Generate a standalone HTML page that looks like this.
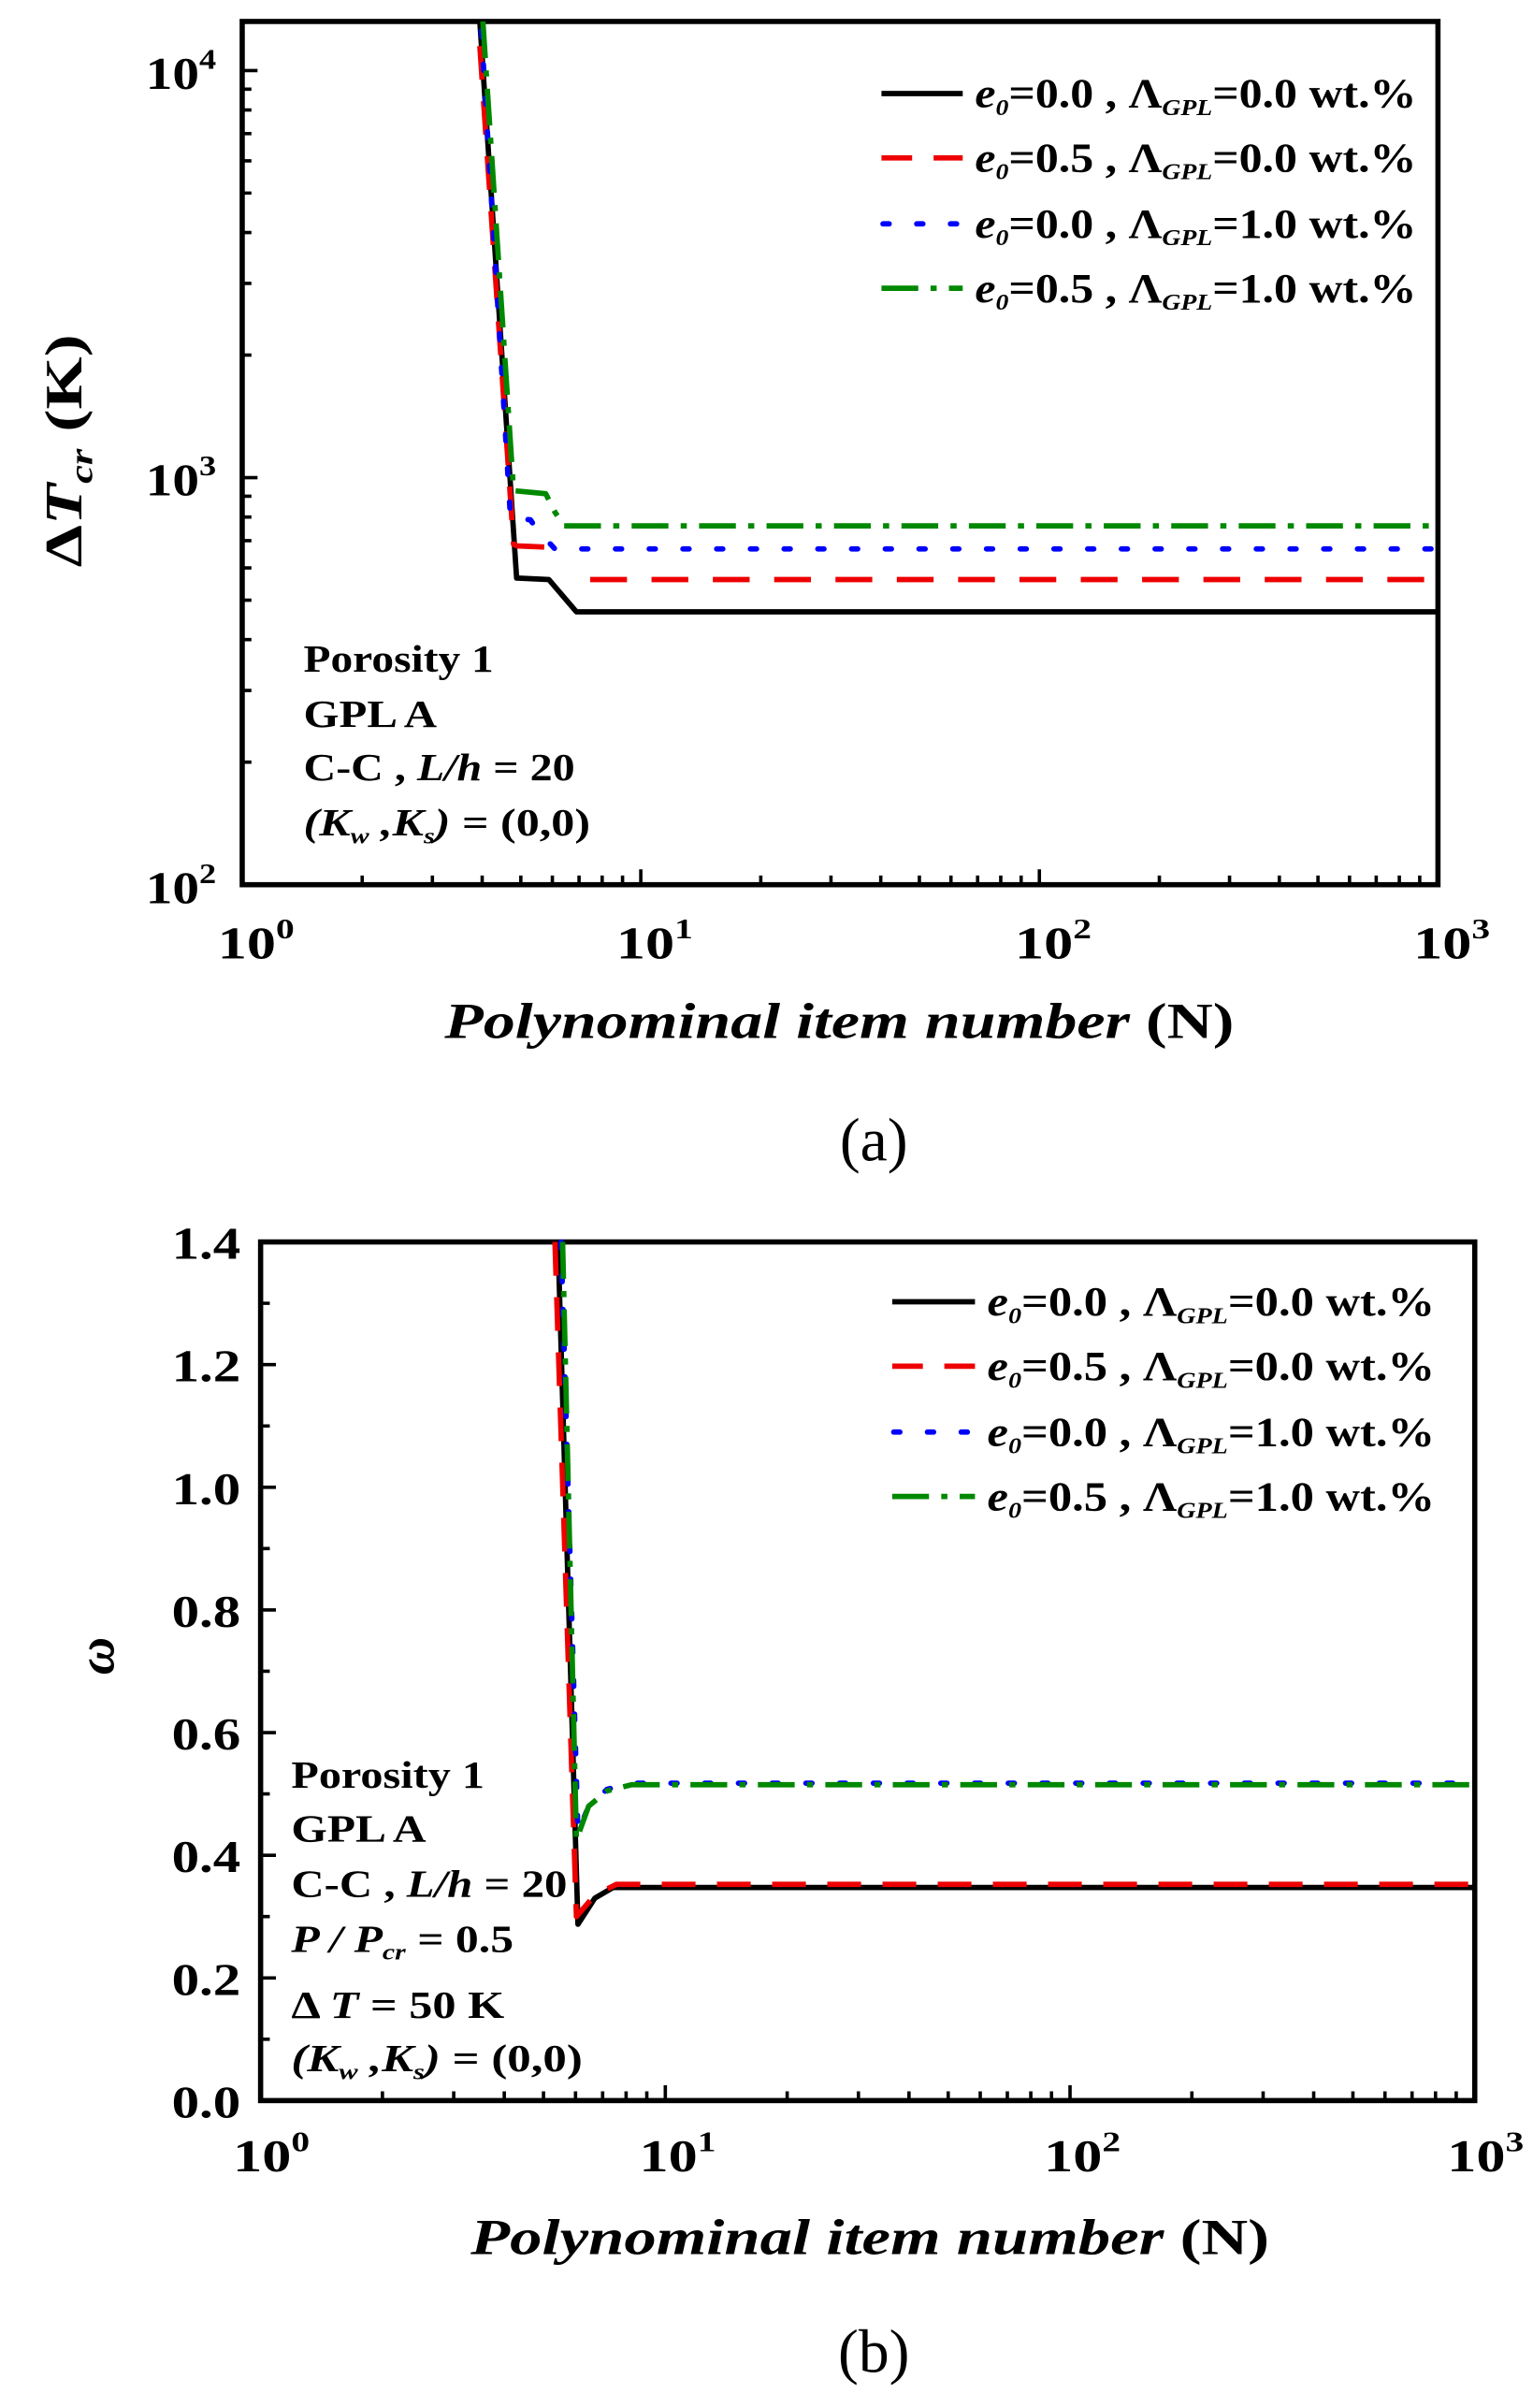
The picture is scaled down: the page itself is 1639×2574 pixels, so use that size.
<!DOCTYPE html>
<html><head><meta charset="utf-8"><style>
html,body{margin:0;padding:0;background:#fff;}
svg{display:block;}
text{font-family:"Liberation Serif",serif;font-weight:bold;fill:#000;}
</style></head><body>
<svg id="s" width="1639" height="2574" viewBox="0 0 1000 1570.5" preserveAspectRatio="none" xmlns="http://www.w3.org/2000/svg">
<g id="ticks" stroke="#000" stroke-width="2.2"></g>
<rect x="158" y="14" width="780" height="563" fill="none" stroke="#000" stroke-width="3.4"/>
<g fill="none" stroke-width="3.5" stroke-linejoin="round">
<polyline stroke="#000" points="313,14 337,377 358,378 376,399 938,399"/>
<polyline stroke="#e00" stroke-dasharray="22,14" points="313,30 335,355 337,356 360,357 362,362"/>
<polyline stroke="#e00" stroke-dasharray="24,16" points="385,378 938,378"/>
<polyline stroke="#00f" stroke-dasharray="4,18" stroke-linecap="round" points="314,20 333,338 346,339 350,345 362,358 938,358"/>
<polyline stroke="#080" stroke-dasharray="24,8,4,8" points="315,14 335,320 356,322 362,334 368,343 938,343"/>
</g>
<g stroke-width="3.5" fill="none">
<line x1="575" y1="61" x2="628" y2="61" stroke="#000"/>
<line x1="575" y1="103" x2="628" y2="103" stroke="#e00" stroke-dasharray="20,14"/>
<line x1="576" y1="146" x2="628" y2="146" stroke="#00f" stroke-dasharray="4,18" stroke-linecap="round"/>
<line x1="575" y1="188" x2="628" y2="188" stroke="#080" stroke-dasharray="24,8,4,8"/>
</g>
<g font-size="27">
<text x="636" y="70" textLength="288" lengthAdjust="spacingAndGlyphs"><tspan font-style="italic">e</tspan><tspan font-size="15" dy="5" font-style="italic">0</tspan><tspan dy="-5">=0.0 , Λ</tspan><tspan font-size="15" dy="5" font-style="italic">GPL</tspan><tspan dy="-5">=0.0 wt.%</tspan></text>
<text x="636" y="112" textLength="288" lengthAdjust="spacingAndGlyphs"><tspan font-style="italic">e</tspan><tspan font-size="15" dy="5" font-style="italic">0</tspan><tspan dy="-5">=0.5 , Λ</tspan><tspan font-size="15" dy="5" font-style="italic">GPL</tspan><tspan dy="-5">=0.0 wt.%</tspan></text>
<text x="636" y="155" textLength="288" lengthAdjust="spacingAndGlyphs"><tspan font-style="italic">e</tspan><tspan font-size="15" dy="5" font-style="italic">0</tspan><tspan dy="-5">=0.0 , Λ</tspan><tspan font-size="15" dy="5" font-style="italic">GPL</tspan><tspan dy="-5">=1.0 wt.%</tspan></text>
<text x="636" y="197" textLength="288" lengthAdjust="spacingAndGlyphs"><tspan font-style="italic">e</tspan><tspan font-size="15" dy="5" font-style="italic">0</tspan><tspan dy="-5">=0.5 , Λ</tspan><tspan font-size="15" dy="5" font-style="italic">GPL</tspan><tspan dy="-5">=1.0 wt.%</tspan></text>
</g>
<g font-size="25">
<text x="198" y="438" textLength="124" lengthAdjust="spacingAndGlyphs">Porosity 1</text>
<text x="198" y="474" textLength="87" lengthAdjust="spacingAndGlyphs">GPL A</text>
<text x="198" y="509" textLength="177" lengthAdjust="spacingAndGlyphs">C-C , <tspan font-style="italic">L/h</tspan> = 20</text>
<text x="198" y="545" textLength="187" lengthAdjust="spacingAndGlyphs"><tspan font-style="italic">(K</tspan><tspan font-style="italic" font-size="15" dy="5">w</tspan><tspan font-style="italic" dy="-5"> ,K</tspan><tspan font-style="italic" font-size="15" dy="5">s</tspan><tspan font-style="italic" dy="-5">)</tspan> = (0,0)</text>
</g>
<g font-size="30">
<text x="95" y="58" textLength="46" lengthAdjust="spacingAndGlyphs">10<tspan font-size="19" dy="-13">4</tspan></text>
<text x="95" y="323" textLength="46" lengthAdjust="spacingAndGlyphs">10<tspan font-size="19" dy="-13">3</tspan></text>
<text x="95" y="589" textLength="46" lengthAdjust="spacingAndGlyphs">10<tspan font-size="19" dy="-13">2</tspan></text>
<text x="142" y="625" textLength="50" lengthAdjust="spacingAndGlyphs">10<tspan font-size="19" dy="-13">0</tspan></text>
<text x="402" y="625" textLength="50" lengthAdjust="spacingAndGlyphs">10<tspan font-size="19" dy="-13">1</tspan></text>
<text x="662" y="625" textLength="50" lengthAdjust="spacingAndGlyphs">10<tspan font-size="19" dy="-13">2</tspan></text>
<text x="922" y="625" textLength="50" lengthAdjust="spacingAndGlyphs">10<tspan font-size="19" dy="-13">3</tspan></text>
</g>
<text transform="translate(53,370) rotate(-90)" font-size="34" textLength="152" lengthAdjust="spacingAndGlyphs">Δ<tspan font-style="italic">T</tspan><tspan font-style="italic" font-size="21" dy="7">cr</tspan><tspan dy="-7"> (K)</tspan></text>
<text x="290" y="677" font-size="33" textLength="515" lengthAdjust="spacingAndGlyphs"><tspan font-style="italic">Polynominal item number</tspan> (N)</text>
<text x="570" y="757" font-size="40" text-anchor="middle" style="font-weight:normal">(a)</text>

<rect x="170" y="810" width="792" height="560" fill="none" stroke="#000" stroke-width="3.4"/>
<g fill="none" stroke-width="3.5" stroke-linejoin="round">
<polyline stroke="#000" points="364,810 377,1255 388,1238 400,1231 962,1231"/>
<polyline stroke="#e00" stroke-dasharray="22,14" points="362,810 376,1250 388,1236 402,1229 962,1229"/>
<polyline stroke="#00f" stroke-dasharray="4,18" stroke-linecap="round" points="366,810 377,1195 384,1178 396,1167 412,1163 962,1163"/>
<polyline stroke="#080" stroke-dasharray="24,8,4,8" points="367,810 376,1200 384,1178 396,1168 412,1164 962,1164"/>
</g>
<g stroke-width="3.5" fill="none">
<line x1="582" y1="849" x2="636" y2="849" stroke="#000"/>
<line x1="582" y1="891" x2="636" y2="891" stroke="#e00" stroke-dasharray="20,14"/>
<line x1="583" y1="934" x2="636" y2="934" stroke="#00f" stroke-dasharray="4,18" stroke-linecap="round"/>
<line x1="582" y1="976" x2="636" y2="976" stroke="#080" stroke-dasharray="24,8,4,8"/>
</g>
<g font-size="27">
<text x="644" y="858" textLength="292" lengthAdjust="spacingAndGlyphs"><tspan font-style="italic">e</tspan><tspan font-size="15" dy="5" font-style="italic">0</tspan><tspan dy="-5">=0.0 , Λ</tspan><tspan font-size="15" dy="5" font-style="italic">GPL</tspan><tspan dy="-5">=0.0 wt.%</tspan></text>
<text x="644" y="900" textLength="292" lengthAdjust="spacingAndGlyphs"><tspan font-style="italic">e</tspan><tspan font-size="15" dy="5" font-style="italic">0</tspan><tspan dy="-5">=0.5 , Λ</tspan><tspan font-size="15" dy="5" font-style="italic">GPL</tspan><tspan dy="-5">=0.0 wt.%</tspan></text>
<text x="644" y="943" textLength="292" lengthAdjust="spacingAndGlyphs"><tspan font-style="italic">e</tspan><tspan font-size="15" dy="5" font-style="italic">0</tspan><tspan dy="-5">=0.0 , Λ</tspan><tspan font-size="15" dy="5" font-style="italic">GPL</tspan><tspan dy="-5">=1.0 wt.%</tspan></text>
<text x="644" y="985" textLength="292" lengthAdjust="spacingAndGlyphs"><tspan font-style="italic">e</tspan><tspan font-size="15" dy="5" font-style="italic">0</tspan><tspan dy="-5">=0.5 , Λ</tspan><tspan font-size="15" dy="5" font-style="italic">GPL</tspan><tspan dy="-5">=1.0 wt.%</tspan></text>
</g>
<g font-size="25">
<text x="190" y="1166" textLength="126" lengthAdjust="spacingAndGlyphs">Porosity 1</text>
<text x="190" y="1201" textLength="88" lengthAdjust="spacingAndGlyphs">GPL A</text>
<text x="190" y="1237" textLength="180" lengthAdjust="spacingAndGlyphs">C-C , <tspan font-style="italic">L/h</tspan> = 20</text>
<text x="190" y="1273" textLength="145" lengthAdjust="spacingAndGlyphs"><tspan font-style="italic">P / P</tspan><tspan font-style="italic" font-size="15" dy="5">cr</tspan><tspan dy="-5"> = 0.5</tspan></text>
<text x="190" y="1316" textLength="139" lengthAdjust="spacingAndGlyphs">Δ <tspan font-style="italic">T</tspan> = 50 K</text>
<text x="190" y="1351" textLength="190" lengthAdjust="spacingAndGlyphs"><tspan font-style="italic">(K</tspan><tspan font-style="italic" font-size="15" dy="5">w</tspan><tspan font-style="italic" dy="-5"> ,K</tspan><tspan font-style="italic" font-size="15" dy="5">s</tspan><tspan font-style="italic" dy="-5">)</tspan> = (0,0)</text>
</g>
<g font-size="30">
<text x="112" y="821" textLength="45" lengthAdjust="spacingAndGlyphs">1.4</text>
<text x="112" y="901" textLength="45" lengthAdjust="spacingAndGlyphs">1.2</text>
<text x="112" y="981" textLength="45" lengthAdjust="spacingAndGlyphs">1.0</text>
<text x="112" y="1061" textLength="45" lengthAdjust="spacingAndGlyphs">0.8</text>
<text x="112" y="1141" textLength="45" lengthAdjust="spacingAndGlyphs">0.6</text>
<text x="112" y="1221" textLength="45" lengthAdjust="spacingAndGlyphs">0.4</text>
<text x="112" y="1301" textLength="45" lengthAdjust="spacingAndGlyphs">0.2</text>
<text x="112" y="1381" textLength="45" lengthAdjust="spacingAndGlyphs">0.0</text>
<text x="152" y="1416" textLength="50" lengthAdjust="spacingAndGlyphs">10<tspan font-size="19" dy="-13">0</tspan></text>
<text x="417" y="1416" textLength="50" lengthAdjust="spacingAndGlyphs">10<tspan font-size="19" dy="-13">1</tspan></text>
<text x="681" y="1416" textLength="50" lengthAdjust="spacingAndGlyphs">10<tspan font-size="19" dy="-13">2</tspan></text>
<text x="944" y="1416" textLength="50" lengthAdjust="spacingAndGlyphs">10<tspan font-size="19" dy="-13">3</tspan></text>
</g>
<text transform="translate(74,1080) rotate(-90)" font-size="34" text-anchor="middle" font-style="italic">ω</text>
<text x="307" y="1470" font-size="33" textLength="521" lengthAdjust="spacingAndGlyphs"><tspan font-style="italic">Polynominal item number</tspan> (N)</text>
<text x="570" y="1547" font-size="40" text-anchor="middle" style="font-weight:normal">(b)</text>
</svg>
<script>
(function(){
var g=document.getElementById('ticks'),d='';
function L(x1,y1,x2,y2){d+='M'+x1+' '+y1+'L'+x2+' '+y2;}
for(var k=0;k<3;k++){for(var m=1;m<10;m++){var x=158+260*(k+Math.log10(m));L(x,577,x,577-(m==1?10:6));}}
for(var k=0;k<3;k++){for(var m=1;m<10;m++){var y=577-265.5*(k+Math.log10(m));if(y<14)continue;L(158,y,158+(m==1?10:6),y);}}
for(var k=0;k<3;k++){for(var m=1;m<10;m++){var x=170+264*(k+Math.log10(m));L(x,1370,x,1370-(m==1?10:6));}}
for(var i=0;i<=14;i++){var y=1370-40*i;L(170,y,170+(i%2==0?10:6),y);}
var p=document.createElementNS('http://www.w3.org/2000/svg','path');p.setAttribute('d',d);p.setAttribute('fill','none');g.appendChild(p);
})();
</script>
</body></html>
